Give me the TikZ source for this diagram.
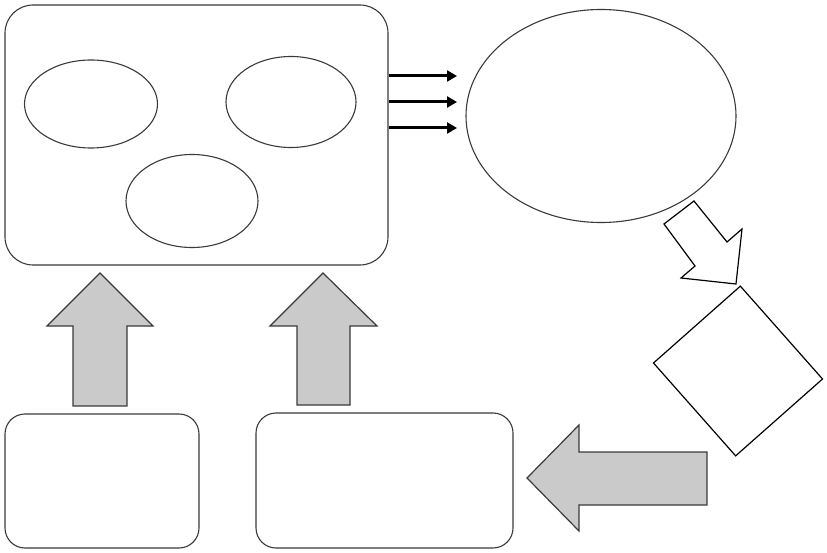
\documentclass[tikz,border=0pt]{standalone}
\usepackage{xcolor}
\usepackage{tikz}
\usetikzlibrary{arrows.meta, positioning, shapes.geometric}
\definecolor{trait}{HTML}{3A3A3A}
\definecolor{grisbloc}{HTML}{CACACA}
\tikzset{
  cadre/.style={rectangle, rounded corners=28pt, draw=trait, line width=1.1pt,
    fill=white, inner sep=0pt},
  boite/.style={cadre, rounded corners=20pt},
  bulle/.style={ellipse, draw=trait, line width=1.1pt, fill=white, inner sep=0pt},
  carre/.style={rectangle, draw=black, line width=1.2pt, inner sep=0pt},
  grossefleche/.style={draw=trait, line width=1.2pt, fill=grisbloc, line join=miter},
  flechevide/.style={draw=black, line width=1.2pt, fill=white, line join=miter},
  fleche/.style={-{Triangle[length=10pt, width=11pt]}, line width=3pt, color=black},
}
\begin{document}
\begin{tikzpicture}[x=1pt, y=-1pt]
    \useasboundingbox (0,0) rectangle (827,553);

    % bloc principal et ses bulles
    \node[cadre, minimum width=383pt, minimum height=260pt] (groupe) at (196.5,135) {};
    \node[bulle, minimum width=133pt, minimum height=88pt] (bulleA) at (91,104) {};
    \node[bulle, minimum width=130pt, minimum height=91pt] (bulleB) at (291,102) {};
    \node[bulle, minimum width=132pt, minimum height=93pt] (bulleC) at (192,201) {};

    \node[bulle, minimum width=270pt, minimum height=213pt] (cible) at (601,116) {};
    \node[carre, minimum width=116pt, minimum height=124pt, rotate=41.5] (losange) at (738,371) {};

    \node[boite, minimum width=194pt, minimum height=134pt] (sourceA) at (102,481) {};
    \node[boite, minimum width=257pt, minimum height=135pt] (sourceB) at (384.5,480.5) {};

    % trois petites fleches
    \foreach \i/\y in {1/76, 2/102, 3/128} {
      \coordinate (depart\i) at (389,\y);
      \coordinate (arrivee\i) at (457,\y);
      \draw[fleche] (depart\i) -- (arrivee\i);
    }

    % fleche creuse vers le losange
    \draw[flechevide] (694,201) -- (727,242) -- (742,229) -- (736,284)
      -- (681,278) -- (695,266) -- (664,224) -- cycle;

    % fleches grises vers le haut
    \draw[grossefleche] (73,406) -- (73,326) -- (47,326) -- (100,273)
      -- (153,326) -- (127,326) -- (127,406) -- cycle;
    \draw[grossefleche] (297,405) -- (297,326) -- (270,326) -- (323,273)
      -- (377,326) -- (350,326) -- (350,405) -- cycle;

    % fleche grise vers la gauche
    \draw[grossefleche] (707,452) -- (579,452) -- (579,425) -- (527,478)
      -- (579,531) -- (579,505) -- (707,505) -- cycle;
\end{tikzpicture}
\end{document}
